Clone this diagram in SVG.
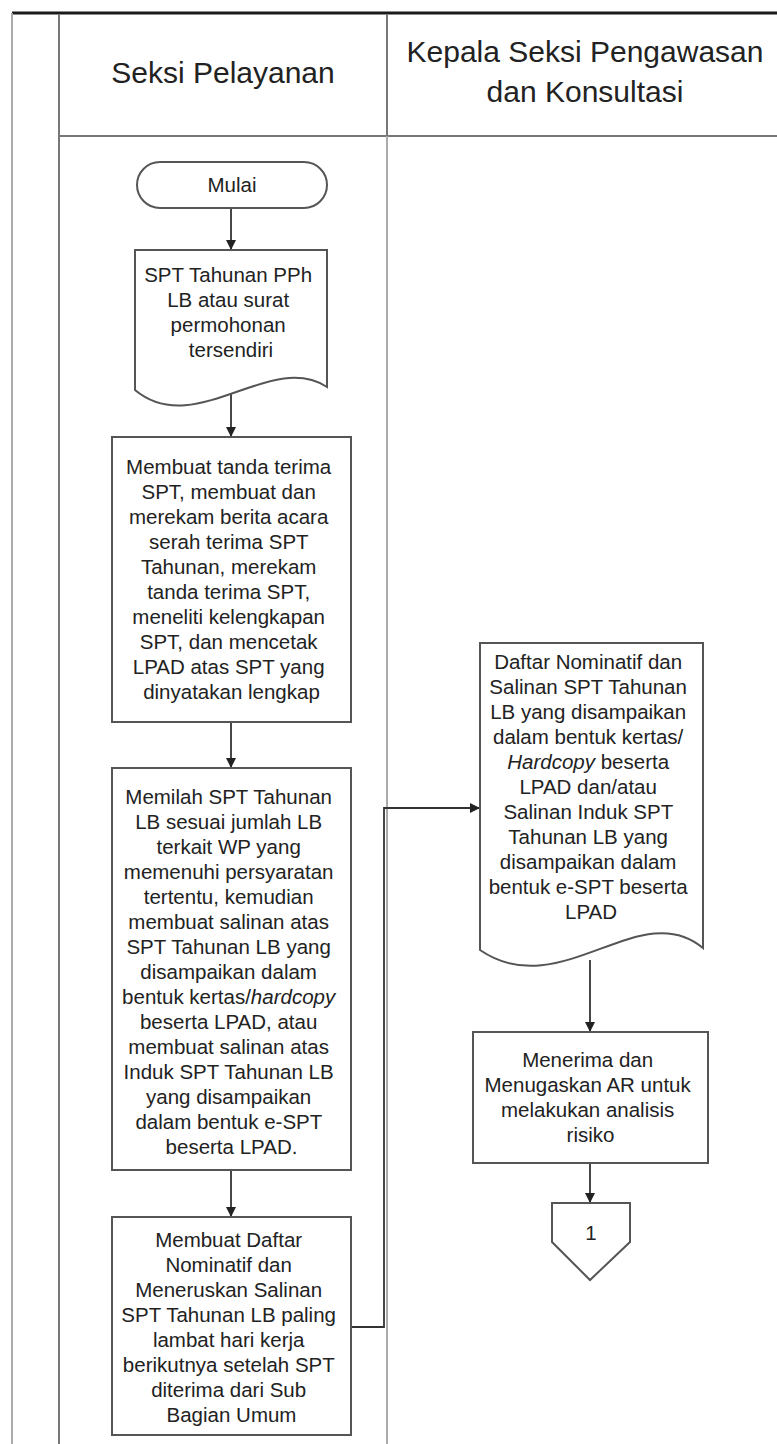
<svg xmlns="http://www.w3.org/2000/svg" width="777" height="1444" viewBox="0 0 777 1444">
  <style>
    .frame { stroke: #1a1a1a; stroke-width: 3; fill: none; }
    .lane { stroke: #777; stroke-width: 2; fill: none; }
    .lane-faint { stroke: #aaa; stroke-width: 2; fill: none; }
    .shape { fill: #fff; stroke: #555; stroke-width: 2; }
    .flow { stroke: #333; stroke-width: 1.8; fill: none; marker-end: url(#arrow); }
    .head { font-family: "Liberation Sans", Arial, sans-serif; font-size: 30px; fill: #222; text-anchor: middle; }
    .label { font-family: "Liberation Sans", Arial, sans-serif; font-size: 20.5px; fill: #222; text-anchor: middle; }
  </style>
  <defs>
    <marker id="arrow" viewBox="0 0 10 10" refX="10" refY="5" markerWidth="10" markerHeight="10" markerUnits="userSpaceOnUse" orient="auto">
      <path d="M0,0 L10,5 L0,10 Z" fill="#222"/>
    </marker>
  </defs>
  <rect width="777" height="1444" fill="#fff"/>

  <!-- swimlane frame -->
  <g id="lanes">
    <line class="frame" x1="12" y1="13" x2="777" y2="13"/>
    <line class="lane-faint" x1="12" y1="13" x2="12" y2="1444"/>
    <line class="lane" x1="59" y1="14" x2="59" y2="1444"/>
    <line class="lane" x1="59" y1="136" x2="777" y2="136"/>
    <line class="lane" x1="387" y1="14" x2="387" y2="136"/>
    <line class="lane-faint" x1="387" y1="136" x2="387" y2="1444"/>
    <text class="head" x="223" y="83">Seksi Pelayanan</text>
    <text class="head" x="585" y="62">Kepala Seksi Pengawasan</text>
    <text class="head" x="585" y="102">dan Konsultasi</text>
  </g>

  <!-- connectors -->
  <g id="connectors">
    <line class="flow" x1="231" y1="208" x2="231" y2="250"/>
    <line class="flow" x1="231" y1="394" x2="231" y2="437"/>
    <line class="flow" x1="231" y1="722" x2="231" y2="768"/>
    <line class="flow" x1="231" y1="1170" x2="231" y2="1217"/>
    <polyline class="flow" points="351,1327 384,1327 384,808 480,808"/>
    <line class="flow" x1="590" y1="960" x2="590" y2="1032"/>
    <line class="flow" x1="590" y1="1163" x2="590" y2="1203"/>
  </g>

  <g id="start">
    <rect class="shape" x="137" y="162" width="190" height="46" rx="23" ry="23"/>
    <text class="label" x="232" y="192">Mulai</text>
  </g>

  <g id="doc-spt">
    <path class="shape" d="M135,250 H327 V387 C270,350 195,440 135,390 Z"/>
    <text class="label">
      <tspan x="231" y="282">SPT Tahunan PPh</tspan>
      <tspan x="231" y="307">LB atau surat</tspan>
      <tspan x="231" y="332">permohonan</tspan>
      <tspan x="231" y="357">tersendiri</tspan>
    </text>
  </g>

  <g id="terima-spt">
    <rect class="shape" x="112" y="437" width="239" height="285"/>
    <text class="label">
      <tspan x="231.5" y="474">Membuat tanda terima</tspan>
      <tspan x="231.5" y="499">SPT, membuat dan</tspan>
      <tspan x="231.5" y="524">merekam berita acara</tspan>
      <tspan x="231.5" y="549">serah terima SPT</tspan>
      <tspan x="231.5" y="574">Tahunan, merekam</tspan>
      <tspan x="231.5" y="599">tanda terima SPT,</tspan>
      <tspan x="231.5" y="624">meneliti kelengkapan</tspan>
      <tspan x="231.5" y="649">SPT, dan mencetak</tspan>
      <tspan x="231.5" y="674">LPAD atas SPT yang</tspan>
      <tspan x="231.5" y="699">dinyatakan lengkap</tspan>
    </text>
  </g>

  <g id="memilah-spt">
    <rect class="shape" x="112" y="768" width="239" height="402"/>
    <text class="label">
      <tspan x="231.5" y="804">Memilah SPT Tahunan</tspan>
      <tspan x="231.5" y="829">LB sesuai jumlah LB</tspan>
      <tspan x="231.5" y="854">terkait WP yang</tspan>
      <tspan x="231.5" y="879">memenuhi persyaratan</tspan>
      <tspan x="231.5" y="904">tertentu, kemudian</tspan>
      <tspan x="231.5" y="929">membuat salinan atas</tspan>
      <tspan x="231.5" y="954">SPT Tahunan LB yang</tspan>
      <tspan x="231.5" y="979">disampaikan dalam</tspan>
      <tspan x="231.5" y="1004">bentuk kertas/<tspan font-style="italic">hardcopy</tspan></tspan>
      <tspan x="231.5" y="1029">beserta LPAD, atau</tspan>
      <tspan x="231.5" y="1054">membuat salinan atas</tspan>
      <tspan x="231.5" y="1079">Induk SPT Tahunan LB</tspan>
      <tspan x="231.5" y="1104">yang disampaikan</tspan>
      <tspan x="231.5" y="1129">dalam bentuk e-SPT</tspan>
      <tspan x="231.5" y="1154">beserta LPAD.</tspan>
    </text>
  </g>

  <g id="daftar-nominatif">
    <rect class="shape" x="112" y="1217" width="239" height="218"/>
    <text class="label">
      <tspan x="231.5" y="1247">Membuat Daftar</tspan>
      <tspan x="231.5" y="1272">Nominatif dan</tspan>
      <tspan x="231.5" y="1297">Meneruskan Salinan</tspan>
      <tspan x="231.5" y="1322">SPT Tahunan LB paling</tspan>
      <tspan x="231.5" y="1347">lambat hari kerja</tspan>
      <tspan x="231.5" y="1372">berikutnya setelah SPT</tspan>
      <tspan x="231.5" y="1397">diterima dari Sub</tspan>
      <tspan x="231.5" y="1422">Bagian Umum</tspan>
    </text>
  </g>

  <g id="doc-salinan">
    <path class="shape" d="M480,643 H703 V948 C640,895 560,1005 480,950 Z"/>
    <text class="label">
      <tspan x="591" y="669">Daftar Nominatif dan</tspan>
      <tspan x="591" y="694">Salinan SPT Tahunan</tspan>
      <tspan x="591" y="719">LB yang disampaikan</tspan>
      <tspan x="591" y="744">dalam bentuk kertas/</tspan>
      <tspan x="591" y="769"><tspan font-style="italic">Hardcopy</tspan> beserta</tspan>
      <tspan x="591" y="794">LPAD dan/atau</tspan>
      <tspan x="591" y="819">Salinan Induk SPT</tspan>
      <tspan x="591" y="844">Tahunan LB yang</tspan>
      <tspan x="591" y="869">disampaikan dalam</tspan>
      <tspan x="591" y="894">bentuk e-SPT beserta</tspan>
      <tspan x="591" y="919">LPAD</tspan>
    </text>
  </g>

  <g id="tugaskan-ar">
    <rect class="shape" x="473" y="1032" width="235" height="131"/>
    <text class="label">
      <tspan x="590.5" y="1067">Menerima dan</tspan>
      <tspan x="590.5" y="1092">Menugaskan AR untuk</tspan>
      <tspan x="590.5" y="1117">melakukan analisis</tspan>
      <tspan x="590.5" y="1142">risiko</tspan>
    </text>
  </g>

  <g id="offpage-1">
    <polygon class="shape" points="552,1203 630,1203 630,1242 590,1280 552,1242"/>
    <text class="label" x="591" y="1240">1</text>
  </g>
</svg>
